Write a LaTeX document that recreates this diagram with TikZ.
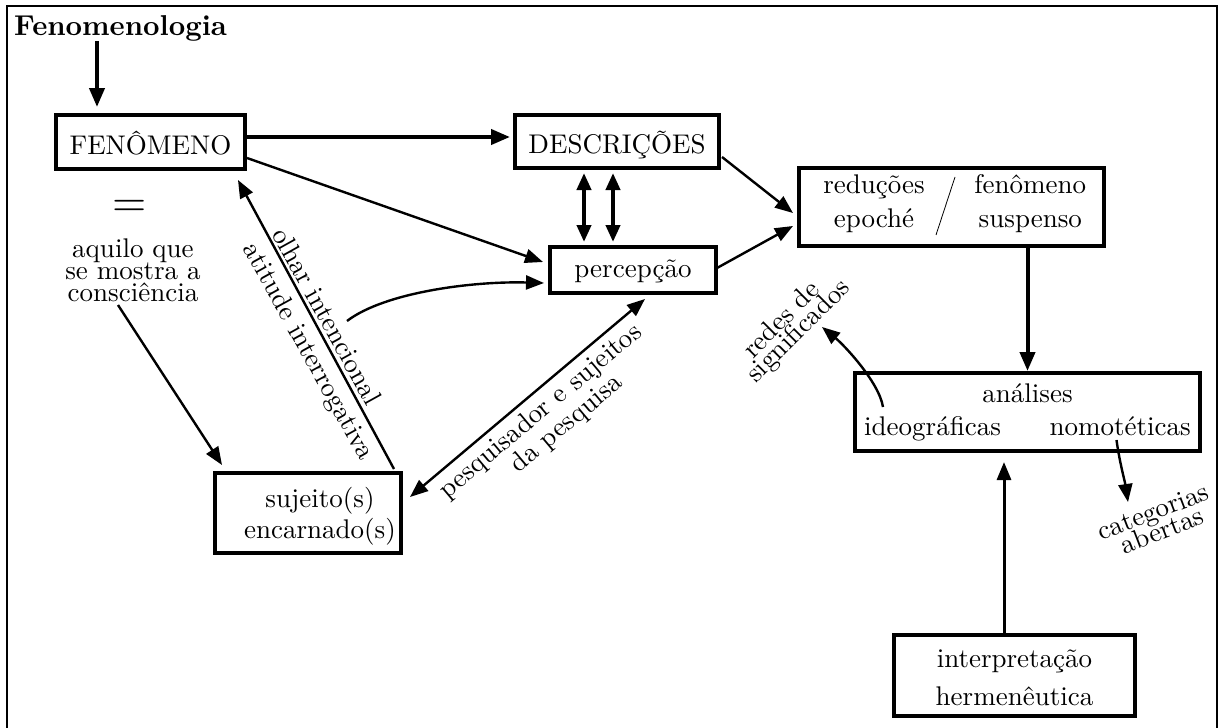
\documentclass[tikz,border=0pt]{standalone}
\usepackage{fontspec}
% the 10pt design of Latin Modern at every size
\setmainfont{lmroman10-regular.otf}[BoldFont=lmroman10-bold.otf, ItalicFont=lmroman10-italic.otf]
\usetikzlibrary{arrows.meta,calc}
% 27pt text with a chosen baseline skip
\newcommand\dfont[1]{\fontsize{27}{#1}\selectfont}
% rows whose height is taken from the strut only
\newcommand\rowtxt[1]{\smash{#1}}

\begin{document}
\begin{tikzpicture}[x=1pt,y=-1pt,
  box/.style={draw, line width=4pt, inner sep=0pt, anchor=base, font=\dfont{30}},
  lbl/.style={inner sep=0pt, font=\dfont{30}},
  thickarr/.style={line width=4pt, -{Triangle[length=19pt,width=15pt]}},
  midarr/.style={line width=3pt, -{Triangle[length=18pt,width=14pt]}},
  thinarr/.style={line width=2.4pt, -{Triangle[length=18pt,width=14pt]}},
  thickdbl/.style={line width=4pt, {Triangle[length=17pt,width=14pt]}-{Triangle[length=17pt,width=14pt]}},
  thindbl/.style={line width=2.4pt, {Triangle[length=18pt,width=14pt]}-{Triangle[length=18pt,width=14pt]}},
]
\useasboundingbox (0,0) rectangle (1219,728);

% open frame
\draw[line width=2pt, line join=miter] (6.5,728) -- (6.5,6) -- (1217,6) -- (1217,728);

% title
\node[lbl, font=\fontsize{28.7}{30}\selectfont\bfseries, anchor=base west] (title) at (14,35) {Fenomenologia};

% boxes
\node[box, minimum width=189pt, text height=39pt, text depth=15pt] (fen) at (150.5,154) {FENÔMENO};
\node[box, minimum width=204pt, text height=38pt, text depth=15pt] (desc) at (617,153) {DESCRIÇÕES};
\node[box, minimum width=166pt, text height=30pt, text depth=16pt] (perc) at (633,277) {percepção};
\node[box, font=\dfont{34}, minimum width=305pt, text height=25pt, text depth=53pt] (red) at (951.5,193)
  {\begin{tabular}[t]{@{\hspace{6.5pt}}c@{\hspace{49.7pt}}c@{}}
   \rowtxt{reduções} & \rowtxt{fenômeno}\\
   \rowtxt{epoché} & \rowtxt{suspenso}
   \end{tabular}};
\node[box, font=\dfont{33}, minimum width=345pt, text height=29pt, text depth=49pt] (ana) at (1027.5,402)
  {\begin{tabular}[t]{@{}l@{\hspace{48.75pt}}l@{}}
   \multicolumn{2}{c}{\rowtxt{análises}\hspace{9pt}}\\
   \rowtxt{ideográficas} & \rowtxt{nomotéticas}
   \end{tabular}};
\node[box, font=\dfont{31}, minimum width=186pt, text height=34pt, text depth=46pt] (suj) at (308,507)
  {\begin{tabular}[t]{@{\hspace{24pt}}c@{}}
   \rowtxt{sujeito(s)}\\
   \rowtxt{encarnado(s)}
   \end{tabular}};
\node[box, font=\dfont{38}, minimum width=241pt, text height=32pt, text depth=49pt] (interp) at (1014.5,667)
  {\begin{tabular}[t]{@{}c@{}}
   \rowtxt{interpretação}\\
   \rowtxt{hermenêutica}
   \end{tabular}};

% slash between the two columns
\draw[line width=0.8pt] ($(red.center)+(3.5,-30)$) -- ($(red.center)+(-15.5,28)$);

% free texts
\node[lbl, anchor=base, font=\fontsize{44}{44}\selectfont] (eq) at (130,216) {=};
\node[lbl, anchor=base, font=\dfont{22}] (aquilo) at (133,257)
  {\begin{tabular}[t]{@{}c@{}}
   \rowtxt{aquilo que}\\
   \rowtxt{se mostra a}\\
   \rowtxt{consciência}
   \end{tabular}};

% rotated labels
\node[lbl, rotate=-61] (olhar) at (327,316) {olhar intencional};
\node[lbl, rotate=-61] (atitude) at (307.5,352) {atitude interrogativa};
\node[lbl, rotate=40] (pesq) at (541,412) {pesquisador e sujeitos};
\node[lbl, rotate=40] (dapesq) at (567,424) {da pesquisa};
\node[lbl, rotate=45] (redes) at (780.5,319) {redes de};
\node[lbl, rotate=45] (signif) at (799,331.5) {significados};
\node[lbl, rotate=21] (categ) at (1154,514) {categorias};
\node[lbl, rotate=21] (abert) at (1162,530) {abertas};

% connectors
\draw[thickarr] ($(title.south west)+(83,0)$) -- ($(fen.north west)+(43,-6)$);
\draw[thickarr] ($(fen.east)+(0,-5)$) -- ($(desc.west)+(-3,-4.5)$);
\draw[thinarr] ($(fen.east)+(0,16)$) -- ($(perc.west)+(-5,-8)$);
\draw[thickdbl] ($(desc.south)+(-33,3)$) -- ($(perc.north)+(-49,-3)$);
\draw[thickdbl] ($(desc.south)+(-4,3)$) -- ($(perc.north)+(-20,-3)$);
\draw[thinarr] ($(desc.east)+(1,15.5)$) -- ($(red.west)+(-4,6)$);
\draw[thinarr] ($(perc.east)+(-1,-2)$) -- ($(red.west)+(-4,19)$);
\draw[thickarr] (red.south -| ana.north) -- (ana.north);
\draw[thinarr] ($(suj.north east)+(-9,-2)$) -- ($(fen.south east)+(-9,9)$);
\coordinate (cstart) at (347,321);
\draw[thinarr] (cstart) .. controls +(38,-29) and +(-70,-2) .. ($(perc.west)+(-4,13)$);
\draw[thinarr] ($(aquilo.base)+(-15,48)$) -- ($(suj.north west)+(9,-6)$);
\draw[thindbl] ($(perc.south)+(12,4)$) -- ($(suj.east)+(7,-16)$);
\draw[thinarr] ($(ana.north west)+(30,36)$) .. controls +(-4,-25) and +(22,18) .. ($(signif.center)+(23,-4.5)$);
\draw[thinarr] ($(ana.south)+(89,-13)$) .. controls +(3,22) and +(-3,-20) .. ($(categ.center)+(-26,-12)$);
\draw[midarr] ($(interp.north)+(-10.5,0)$) -- ($(ana.south)+(-23.5,9)$);
\end{tikzpicture}
\end{document}
